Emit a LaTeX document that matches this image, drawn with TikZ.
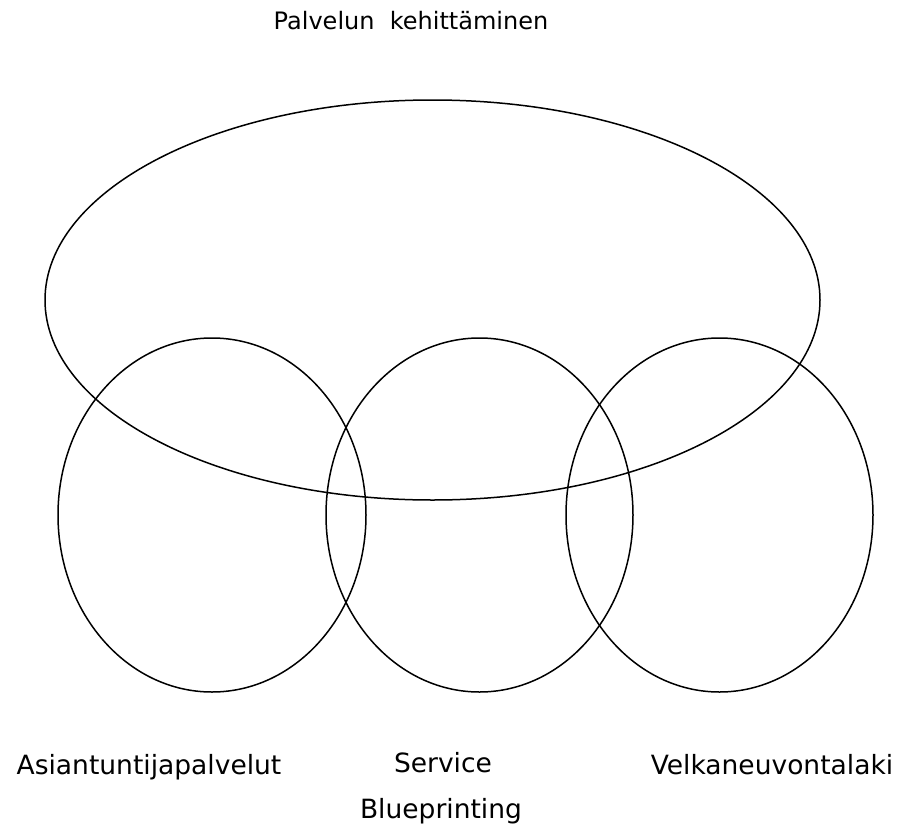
\documentclass[tikz,border=0pt]{standalone}
\usepackage{fontspec}
\setmainfont{DejaVu Sans}
\usetikzlibrary{positioning}

\begin{document}
\begin{tikzpicture}[
  x=1pt,y=-1pt,
  set/.style={draw,line width=1.5pt},
  lbl/.style={font=\fontsize{26.5}{30}\selectfont,anchor=base,inner sep=0pt},
  title/.style={font=\fontsize{24}{28}\selectfont,anchor=base,inner sep=0pt},
]
\useasboundingbox (0,0) rectangle (900,825);

% === Top set ===
\node[title] (kehitys) at (411,29) {Palvelun\ \ kehittäminen};
\draw[set] (432.5,300) ellipse [x radius=387.5,y radius=200];

% === Three lower sets ===
\draw[set] (212,515) ellipse [x radius=154,y radius=177];
\draw[set] (479.5,515) ellipse [x radius=153.5,y radius=177];
\draw[set] (719.5,515) ellipse [x radius=153.5,y radius=177];

% Labels
\node[lbl] (asiantuntija) at (149,774) {Asiantuntijapalvelut};
\node[lbl] (service) at (443,772) {Service};
\node[lbl] (blueprint) at (441,818) {Blueprinting};
\node[lbl] (velka) at (772,774) {Velkaneuvontalaki};

\end{tikzpicture}
\end{document}
